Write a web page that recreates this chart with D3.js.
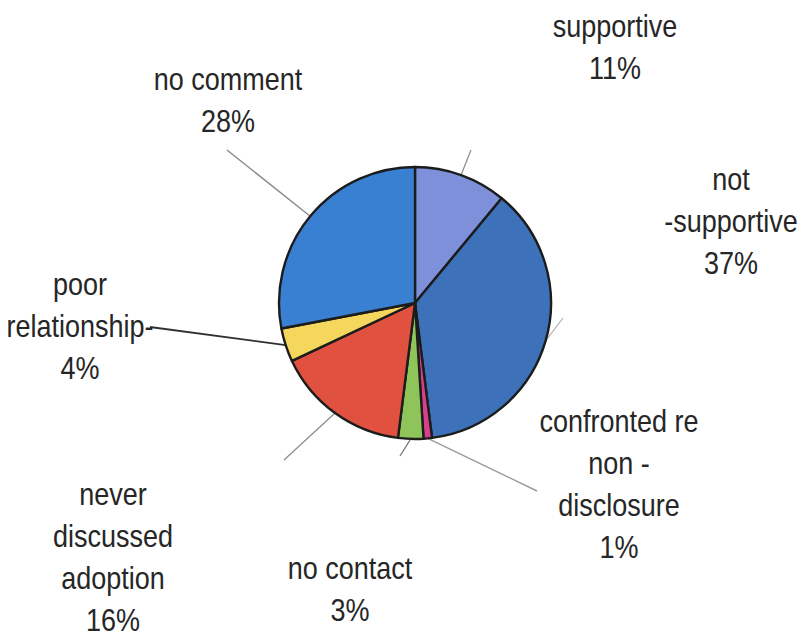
<!DOCTYPE html>
<html>
<head>
<meta charset="utf-8">
<script src="https://cdn.jsdelivr.net/npm/d3@7/dist/d3.min.js"></script>
<style>
  html, body { margin: 0; padding: 0; background: #fff; }
  svg { display: block; }
  text { font-family: "Liberation Sans", Arial, sans-serif; fill: #262626; }
</style>
</head>
<body>
<svg id="chart" width="801" height="637"></svg>
<script>
// Response categories, clockwise from 12 o'clock
const categories = [
  "supportive",
  "not supportive",
  "confronted re non-disclosure",
  "no contact",
  "never discussed adoption",
  "poor relationship",
  "no comment"
];
const percentages = [11, 37, 1, 3, 16, 4, 28];
const sliceColors = ["#7d90d9", "#3d72ba", "#d4408a", "#8fc45a", "#e0513f", "#f4d75c", "#3a80d2"];

// Label lines as printed (last line is the percentage)
const labelLines = [
  ["supportive"],
  ["not", "-supportive"],
  ["confronted re", "non -", "disclosure"],
  ["no contact"],
  ["never", "discussed", "adoption"],
  ["poor", "relationship-"],
  ["no comment"]
];

// Label anchor (centre x, first baseline y) and leader-line end point per slice
const labelPos = [
  { x: 615, y: 37 },
  { x: 731, y: 190 },
  { x: 619, y: 432 },
  { x: 350, y: 579 },
  { x: 113, y: 505 },
  { x: 80,  y: 295 },
  { x: 228, y: 90 }
];
const leaderEnds = [
  [471, 150], [563, 318], [537, 491], [400, 456], [284, 460], [150, 327], [227, 150]
];
const leaderStyles = [
  { c: "#8a8a8a", w: 1.2 }, { c: "#b0b0b0", w: 1.2 }, { c: "#9a9a9a", w: 1.4 },
  { c: "#707070", w: 1.2 }, { c: "#8a8a8a", w: 1.2 }, { c: "#303030", w: 1.8 },
  { c: "#8a8a8a", w: 1.4 }
];

const cx = 415, cy = 303, radius = 136;
const lineGap = 42;

const svg = d3.select("#chart");
const g = svg.append("g").attr("transform", `translate(${cx},${cy})`);

const pie = d3.pie().sort(null).value(d => d)(percentages);
const arc = d3.arc().innerRadius(0).outerRadius(radius);
const rimArc = d3.arc().innerRadius(radius).outerRadius(radius);

// Leader lines from the slice rim out toward each label
pie.forEach((p, i) => {
  const [sx, sy] = rimArc.centroid(p);
  const [ex, ey] = leaderEnds[i];
  g.append("line")
    .attr("x1", sx).attr("y1", sy)
    .attr("x2", ex - cx).attr("y2", ey - cy)
    .attr("stroke", leaderStyles[i].c)
    .attr("stroke-width", leaderStyles[i].w);
});

// Slices
g.selectAll("path.slice")
  .data(pie)
  .join("path")
  .attr("class", "slice")
  .attr("d", arc)
  .attr("fill", (d, i) => sliceColors[i])
  .attr("stroke", "#1c1c1c")
  .attr("stroke-width", 2.4)
  .attr("stroke-linejoin", "round");

// Labels: category lines followed by the percentage
labelLines.forEach((lines, i) => {
  const all = lines.concat([percentages[i] + "%"]);
  all.forEach((t, k) => {
    svg.append("text")
      .attr("transform", `translate(${labelPos[i].x},${labelPos[i].y + k * lineGap}) scale(1,1.13)`)
      .attr("text-anchor", "middle")
      .attr("font-size", 27)
      .text(t);
  });
});
</script>
</body>
</html>
